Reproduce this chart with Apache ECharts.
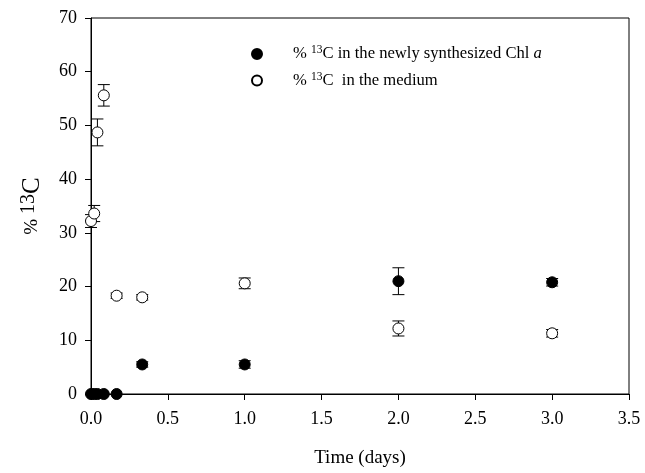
<!DOCTYPE html>
<html>
<head>
<meta charset="utf-8">
<script src="https://cdn.jsdelivr.net/npm/echarts@6/dist/echarts.min.js"></script>
<style>
  html, body { margin: 0; padding: 0; background: #fff; }
  #chart { width: 645px; height: 473px; }
</style>
</head>
<body>
<div id="chart"></div>
<script>
// sampling times (days)
const times = [0, 0.0208, 0.0417, 0.0833, 0.1667, 0.3333, 1, 2, 3];

// % 13C in the newly synthesized Chl a
const chlValues = [0, 0, 0, 0, 0, 5.5, 5.5, 21.0, 20.8];
const chlErr = [0, 0, 0, 0, 0, 0.5, 0.7, 2.5, 0.7];

// % 13C in the medium
const medValues = [32.2, 33.6, 48.7, 55.6, 18.3, 18.0, 20.6, 12.2, 11.3];
const medErr = [1.2, 1.5, 2.5, 2.0, 0.5, 0.5, 1.0, 1.4, 0.7];

const xTicks = [0, 0.5, 1, 1.5, 2, 2.5, 3, 3.5];

const FONT = '"Liberation Serif", "DejaVu Serif", serif';

const chart = echarts.init(document.getElementById('chart'));

// Error bar rows: [x, low, high]
const errRows = (vals, errs) => times.map((t, i) => [t, vals[i] - errs[i], vals[i] + errs[i]]);

function renderErrorBar(params, api) {
  const lo = api.coord([api.value(0), api.value(1)]);
  const hi = api.coord([api.value(0), api.value(2)]);
  if (Math.abs(hi[1] - lo[1]) < 1) return null;
  const w = 6;
  const style = { stroke: '#000', lineWidth: 1 };
  return {
    type: 'group',
    children: [
      { type: 'line', shape: { x1: lo[0], y1: lo[1], x2: hi[0], y2: hi[1] }, style },
      { type: 'line', shape: { x1: lo[0] - w, y1: lo[1], x2: lo[0] + w, y2: lo[1] }, style },
      { type: 'line', shape: { x1: hi[0] - w, y1: hi[1], x2: hi[0] + w, y2: hi[1] }, style }
    ]
  };
}

const richText = {
  n: { fontFamily: FONT, fontSize: 16.6, color: '#000' },
  sup: { fontFamily: FONT, fontSize: 11.5, color: '#000', verticalAlign: 'top', padding: [0, 0, 8, 0] },
  i: { fontFamily: FONT, fontSize: 16.6, color: '#000', fontStyle: 'italic' },
  p: { fontSize: 16, width: 26 }
};

const option = {
  animation: false,
  textStyle: { fontFamily: FONT },
  grid: {
    left: 91,
    right: 16,
    top: 18,
    bottom: 79,
    show: true,
    borderColor: '#000',
    borderWidth: 1,
    backgroundColor: 'transparent'
  },
  legend: {
    orient: 'vertical',
    left: 246,
    top: 39,
    itemWidth: 10,
    itemHeight: 10,
    itemGap: 8,
    data: ['chl', 'medium'],
    formatter: name => name === 'chl'
      ? '{p| }{n|% }{sup|13}{n|C in the newly synthesized Chl }{i|a}'
      : '{p| }{n|% }{sup|13}{n|C  in the medium}',
    textStyle: { rich: richText }
  },
  xAxis: {
    type: 'value',
    min: 0,
    max: 3.5,
    interval: 0.5,
    name: 'Time (days)',
    nameLocation: 'middle',
    nameGap: 55,
    nameTextStyle: { fontFamily: FONT, fontSize: 19, color: '#000' },
    axisLine: { lineStyle: { color: '#000', width: 1 } },
    axisTick: { show: true, inside: false, length: 6, lineStyle: { color: '#000' } },
    axisLabel: {
      color: '#000', fontFamily: FONT, fontSize: 18, margin: 16,
      formatter: v => (xTicks.includes(v) ? v.toFixed(1) : '')
    },
    splitLine: { show: false }
  },
  yAxis: {
    type: 'value',
    min: 0,
    max: 70,
    interval: 10,
    name: '{p|% }{sup|13}{n|C}',
    nameLocation: 'middle',
    nameRotate: 90,
    nameGap: 46,
    nameTextStyle: {
      rich: {
        p: { fontFamily: FONT, fontSize: 19, color: '#000' },
        n: { fontFamily: FONT, fontSize: 25, color: '#000' },
        sup: { fontFamily: FONT, fontSize: 20, color: '#000', verticalAlign: 'top', padding: [0, 0, 6, 0] }
      }
    },
    axisLine: { lineStyle: { color: '#000', width: 1 } },
    axisTick: { show: true, inside: false, length: 6, lineStyle: { color: '#000' } },
    axisLabel: { color: '#000', fontFamily: FONT, fontSize: 18, margin: 14 },
    splitLine: { show: false }
  },
  series: [
    {
      name: 'chlErr',
      type: 'custom',
      renderItem: renderErrorBar,
      data: errRows(chlValues, chlErr),
      encode: { x: 0, y: [1, 2] },
      clip: false,
      silent: true,
      z: 1
    },
    {
      name: 'medErr',
      type: 'custom',
      renderItem: renderErrorBar,
      data: errRows(medValues, medErr),
      encode: { x: 0, y: [1, 2] },
      clip: false,
      silent: true,
      z: 1
    },
    {
      name: 'chl',
      type: 'scatter',
      symbol: 'circle',
      symbolSize: 11,
      data: times.map((t, i) => [t, chlValues[i]]),
      itemStyle: { color: '#000', borderColor: '#000', borderWidth: 1, opacity: 1 },
      clip: false,
      z: 3
    },
    {
      name: 'medium',
      type: 'scatter',
      symbol: 'circle',
      symbolSize: 11,
      data: times.map((t, i) => [t, medValues[i]]),
      itemStyle: { color: '#fff', borderColor: '#000', borderWidth: 1, opacity: 1 },
      clip: false,
      z: 3
    }
  ]
};

chart.setOption(option);
</script>
</body>
</html>
